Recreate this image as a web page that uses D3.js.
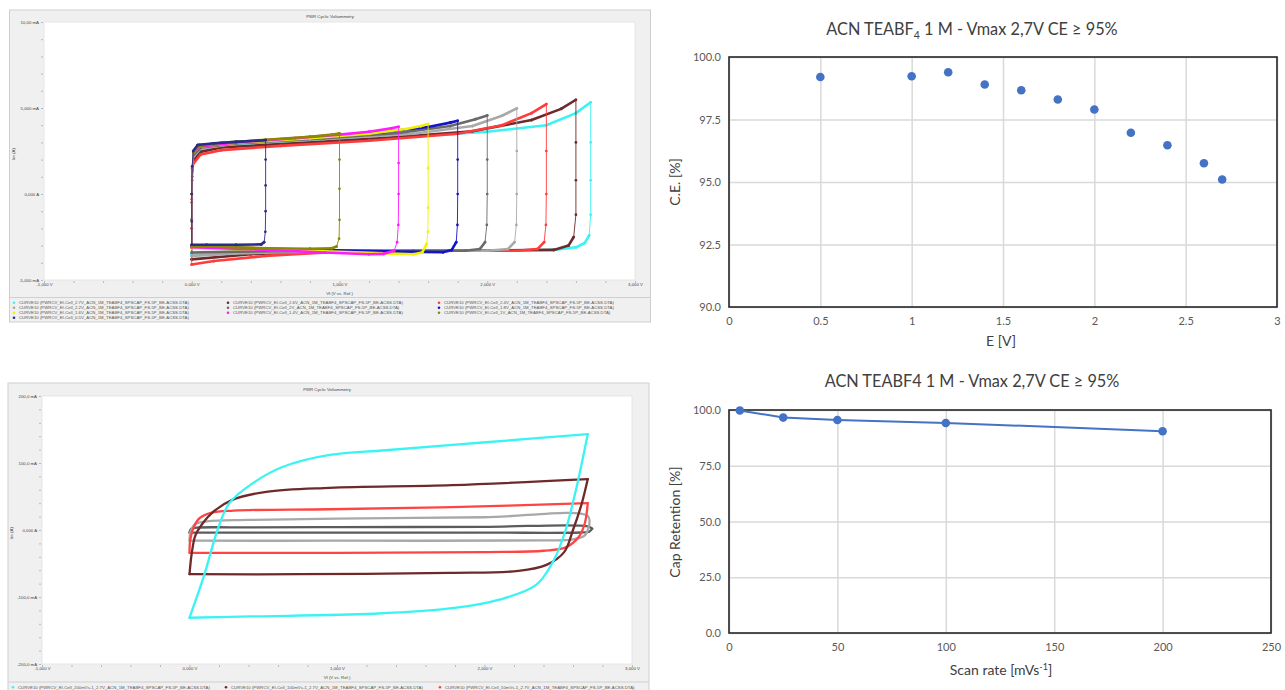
<!DOCTYPE html>
<html><head><meta charset="utf-8">
<script src="https://cdn.jsdelivr.net/npm/d3@7"></script>
<style>body{margin:0;background:#fff}svg{display:block}</style>
</head><body>
<svg id="c" width="1285" height="690"></svg>
<script>
// ---------- DATA ----------
// Top-right: coulombic efficiency vs. voltage window
const ceE   = [0.5, 1, 1.2, 1.4, 1.6, 1.8, 2, 2.2, 2.4, 2.6, 2.7];
const ceVal = [99.2, 99.23, 99.39, 98.9, 98.67, 98.3, 97.9, 96.97, 96.47, 95.75, 95.1];
const ceXTicks = [0, 0.5, 1, 1.5, 2, 2.5, 3];
const ceYTicks = [90, 92.5, 95, 97.5, 100];

// Bottom-right: capacitance retention vs scan rate
const scanRate = [5, 25, 50, 100, 200];
const capRet   = [99.8, 96.6, 95.5, 94.2, 90.5];
const srXTicks = [0, 50, 100, 150, 200, 250];
const srYTicks = [0, 25, 50, 75, 100];

// Top-left: CV loops [V, mA] at different Vmax
const cv27 = [[0,-3.5],[0,-1.5],[0,0],[0.004,1.3],[0.015,2.2],[0.06,2.6],[0.3,2.85],[0.9,3.1],[1.5,3.35],[2.0,3.62],[2.4,4.0],[2.6,4.7],[2.7,5.33],[2.7,3],[2.7,0.8],[2.7,-1.2],[2.69,-2.4],[2.66,-2.85],[2.6,-3.1],[2.45,-3.25],[2.0,-3.3],[1.2,-3.3],[0.5,-3.4],[0,-3.5]];
const cv26 = [[0,-3.8],[0,-2],[0,-0.5],[0.003,1.0],[0.015,2.0],[0.06,2.45],[0.2,2.7],[0.7,2.95],[1.3,3.25],[1.9,3.65],[2.3,4.3],[2.5,4.95],[2.6,5.48],[2.6,3],[2.6,0.8],[2.6,-1.2],[2.585,-2.5],[2.55,-3.0],[2.45,-3.25],[1.8,-3.3],[1.0,-3.35],[0.4,-3.5],[0,-3.8]];
const cv24 = [[0,-4.1],[0,-2],[0,-0.3],[0.003,0.8],[0.015,1.8],[0.06,2.3],[0.2,2.55],[0.6,2.8],[1.2,3.1],[1.8,3.5],[2.1,4.0],[2.3,4.7],[2.4,5.23],[2.4,2.5],[2.4,0],[2.397,-1.8],[2.385,-2.8],[2.34,-3.2],[2.2,-3.3],[1.6,-3.3],[1.0,-3.35],[0.5,-3.6],[0.15,-3.9],[0,-4.1]];
const cv22 = [[0,-3.6],[0,-1.5],[0,0],[0.004,1.3],[0.015,2.2],[0.06,2.65],[0.3,2.92],[0.9,3.2],[1.5,3.5],[1.9,3.95],[2.1,4.55],[2.2,4.98],[2.2,2.5],[2.2,0],[2.197,-1.8],[2.185,-2.8],[2.14,-3.2],[2.0,-3.3],[1.5,-3.3],[0.8,-3.35],[0.3,-3.45],[0,-3.6]];
const cv20 = [[0,-3.4],[0,-1.5],[0,0],[0.003,1.4],[0.015,2.3],[0.06,2.7],[0.3,2.95],[0.9,3.25],[1.4,3.55],[1.75,3.95],[1.92,4.35],[2.0,4.57],[2.0,2],[2.0,0],[1.997,-1.8],[1.985,-2.8],[1.95,-3.2],[1.85,-3.3],[1.5,-3.3],[0.8,-3.3],[0.3,-3.35],[0,-3.4]];
const cv18 = [[0,-3.05],[0,-1.5],[0,0],[0.003,1.6],[0.012,2.5],[0.05,2.85],[0.3,3.02],[0.8,3.27],[1.3,3.6],[1.6,3.9],[1.75,4.15],[1.8,4.26],[1.8,2],[1.8,0],[1.798,-1.8],[1.79,-2.8],[1.76,-3.25],[1.7,-3.38],[1.4,-3.35],[0.8,-3.25],[0.3,-3.12],[0,-3.05]];
const cv16 = [[0,-3.15],[0,-1.5],[0,0],[0.003,1.5],[0.012,2.4],[0.05,2.75],[0.3,2.98],[0.8,3.25],[1.2,3.5],[1.45,3.78],[1.55,3.95],[1.6,4.07],[1.6,1.5],[1.6,-0.8],[1.598,-2.2],[1.59,-2.9],[1.56,-3.4],[1.5,-3.5],[1.3,-3.45],[0.8,-3.3],[0.3,-3.2],[0,-3.15]];
const cv14 = [[0,-3.1],[0,-1.5],[0,0],[0.003,1.5],[0.012,2.4],[0.05,2.75],[0.3,3.0],[0.7,3.25],[1.0,3.45],[1.2,3.62],[1.35,3.82],[1.4,3.91],[1.4,1.8],[1.4,0],[1.398,-1.8],[1.39,-2.8],[1.37,-3.3],[1.3,-3.48],[1.2,-3.5],[0.9,-3.4],[0.5,-3.25],[0,-3.1]];
const cv10 = [[0,-3.0],[0,-1.5],[0,0],[0.003,1.6],[0.012,2.45],[0.05,2.8],[0.2,2.98],[0.5,3.15],[0.8,3.33],[0.95,3.45],[1.0,3.53],[1.0,2.0],[1.0,0.3],[1.0,-1.5],[0.997,-2.6],[0.98,-3.05],[0.95,-3.15],[0.8,-3.18],[0.5,-3.15],[0.2,-3.08],[0,-3.0]];
const cv05 = [[0,-2.95],[0,-1.6],[0,0],[0.003,1.6],[0.01,2.5],[0.04,2.85],[0.15,2.95],[0.3,3.03],[0.45,3.1],[0.5,3.14],[0.5,2.0],[0.5,0.5],[0.5,-1.0],[0.498,-2.2],[0.49,-2.8],[0.47,-2.93],[0.3,-2.95],[0.1,-2.95],[0,-2.95]];
const topNames = ["2.7V","2.6V","2.4V","2.2V","2V","1.8V","1.6V","1.4V","1V","0.5V"];
const topColors = ["#3cf3f3","#6e2a2a","#ff3b3b","#a9a9a9","#6a6a6a","#1414c8","#f2f200","#ff1aff","#8a8a00","#2b2b8a"];
const topCurves = [cv27, cv26, cv24, cv22, cv20, cv18, cv16, cv14, cv10, cv05];
const topYTicks = [10, 5, 0, -5];
const topYLabels = ["10,00 mA","5,000 mA","0,000 A","-5,000 mA"];

// Bottom-left: CV loops [V, mA] at different scan rates
const sr200 = [[0,-131],[0.1,-67],[0.19,0],[0.27,40],[0.43,70],[0.63,94],[0.95,112],[1.33,119],[2.01,131],[2.7,143],[2.62,60],[2.55,0],[2.47,-45],[2.35,-82],[2.1,-104],[1.81,-116],[1.25,-125],[0.41,-129],[0,-131]];
const sr100 = [[0,-66],[0.015,-35],[0.04,-8],[0.09,10],[0.16,27],[0.29,45],[0.52,57],[0.95,63],[1.78,67],[2.7,76],[2.66,40],[2.6,0],[2.54,-33],[2.42,-52],[2.23,-61],[1.76,-64],[0.75,-66],[0,-66]];
const sr50  = [[0,-34],[0.005,-15],[0.03,5],[0.07,18],[0.15,26],[0.3,29],[0.95,31],[1.78,34],[2.7,40],[2.68,10],[2.64,-10],[2.55,-26],[2.4,-31],[2.0,-33],[1.0,-34],[0,-34]];
const sr25  = [[0,-16],[0.008,-2],[0.04,9],[0.12,13],[0.4,15],[1.0,17],[2.0,19],[2.7,21],[2.71,8],[2.68,-8],[2.6,-14],[2.4,-15.5],[1.0,-16],[0,-16]];
const sr5   = [[0,-4],[0.01,1.5],[0.05,3.5],[0.3,4],[1.0,4.3],[2.0,4.7],[2.7,5.5],[2.73,2],[2.71,-2.5],[2.65,-3.7],[2.0,-4],[0,-4]];
const botCurves = [sr5, sr25, sr50, sr100, sr200];
const botColors = ["#5c5c5c","#a8a8a8","#ff4444","#6e2a2a","#3cf3f3"];
const botLegendNames = ["200mVs-1","100mVs-1","50mVs-1"];
const botLegendColors = ["#3cf3f3","#6e2a2a","#ff4444"];
const botYTicks = [200, 100, 0, -100, -200];
const botYLabels = ["200,0 mA","100,0 mA","0,000 A","-100,0 mA","-200,0 mA"];

const cvXTicks = [-1, 0, 1, 2, 3];
const cvXLabels = ["-1,000 V","0,000 V","1,000 V","2,000 V","3,000 V"];

// ---------- DRAW ----------
const svg = d3.select("#c");
const LF = "Liberation Sans, Arial, sans-serif";
const RF = "Lato, 'Open Sans', sans-serif";

function cvPanel(c) {
  const g = svg.append("g");
  g.append("rect").attr("x", c.fx).attr("y", c.fy).attr("width", c.fw).attr("height", c.fh)
    .attr("fill", "#f0f0f0").attr("stroke", "#cfcfcf").attr("stroke-width", 1);
  g.append("rect").attr("x", c.x0).attr("y", c.y0).attr("width", c.x1 - c.x0).attr("height", c.y1 - c.y0)
    .attr("fill", "#fff").attr("stroke", "#e2e2e2").attr("stroke-width", 0.8);
  g.append("text").attr("x", c.titleX).attr("y", c.titleY).attr("text-anchor", "middle")
    .attr("font-family", LF).attr("font-size", 4.3).attr("fill", "#444").text("PWR Cyclic Voltammetry");
  const x = d3.scaleLinear().domain([-1, 3]).range([c.x0, c.x1]);
  const y = d3.scaleLinear().domain(c.yDomain).range([c.y1, c.y0]);
  const styleAxis = s => { s.select(".domain").remove(); s.selectAll("line").attr("stroke", "#a0a0a0").attr("stroke-width", 0.7);
    s.selectAll("text").attr("font-family", LF).attr("font-size", 4.3).attr("fill", "#444"); };
  g.append("g").attr("transform", `translate(${c.x0 - 1},0)`)
    .call(d3.axisLeft(y).tickValues(d3.range(c.yDomain[0], c.yDomain[1] + 1e-9, c.yMinor)).tickSize(2).tickFormat(""))
    .call(styleAxis);
  g.append("g").attr("transform", `translate(${c.x0 - 1},0)`)
    .call(d3.axisLeft(y).tickValues(c.yTicks).tickSize(0).tickPadding(4).tickFormat((d, i) => c.yLabels[i]))
    .call(styleAxis);
  g.append("g").attr("transform", `translate(0,${c.y1 + 1})`)
    .call(d3.axisBottom(x).tickValues(d3.range(-1, 3.0001, 0.2)).tickSize(2).tickFormat(""))
    .call(styleAxis);
  g.append("g").attr("transform", `translate(0,${c.y1})`)
    .call(d3.axisBottom(x).tickValues(cvXTicks).tickSize(0).tickPadding(2.5).tickFormat((d, i) => cvXLabels[i]))
    .call(styleAxis);
  g.append("text").attr("x", (c.x0 + c.x1) / 2).attr("y", c.xTitleY).attr("text-anchor", "middle")
    .attr("font-family", LF).attr("font-size", 4.3).attr("fill", "#444").text("Vf (V vs. Ref.)");
  g.append("text").attr("transform", `translate(${c.yTitleX},${(c.y0 + c.y1) / 2 + 3}) rotate(-90)`).attr("text-anchor", "middle")
    .attr("font-family", LF).attr("font-size", 4.3).attr("fill", "#444").text("Im (A)");
  // legend
  g.append("line").attr("x1", c.fx).attr("x2", c.fx + c.fw).attr("y1", c.sepY).attr("y2", c.sepY).attr("stroke", "#cfcfcf");
  c.legend.forEach((t, i) => {
    const col = i % 3, row = Math.floor(i / 3);
    const lx = c.legendX[col], ly = c.legendY + row * c.legendRow;
    g.append("circle").attr("cx", lx).attr("cy", ly - 1.3).attr("r", 1.3).attr("fill", c.legendColors[i]);
    g.append("text").attr("x", lx + 5).attr("y", ly).attr("font-family", LF).attr("font-size", 4.3)
      .attr("fill", "#555").text(t);
  });
  // curves
  const clipId = "clip" + c.fy;
  svg.append("clipPath").attr("id", clipId).append("rect").attr("x", c.x0).attr("y", c.y0)
    .attr("width", c.x1 - c.x0).attr("height", c.y1 - c.y0);
  const cg = g.append("g").attr("clip-path", `url(#${clipId})`);
  c.curves.forEach((d, i) => {
    if (c.dots) {
      // segment-wise: steep (sparse data) segments thin, slow segments thick like dense markers
      const segs = d3.pairs(d);
      cg.selectAll(null).data(segs).enter().append("line")
        .attr("x1", s => x(s[0][0])).attr("y1", s => y(s[0][1]))
        .attr("x2", s => x(s[1][0])).attr("y2", s => y(s[1][1]))
        .attr("stroke", c.colors[i]).attr("stroke-linecap", "round")
        .attr("stroke-width", s => {
          const dx = Math.abs(x(s[1][0]) - x(s[0][0])), dy = Math.abs(y(s[1][1]) - y(s[0][1]));
          return dx < 0.35 * dy ? 0.9 : c.sw;
        });
      cg.selectAll(null).data(d).enter().append("circle")
        .attr("cx", p => x(p[0])).attr("cy", p => y(p[1])).attr("r", 1.35).attr("fill", c.colors[i]);
    } else {
      // forward and reverse sweeps drawn separately so the vertex at the switching potential stays sharp
      const k = d3.maxIndex(d, p => p[0]);
      const line = d3.line().x(p => x(p[0])).y(p => y(p[1])).curve(d3.curveCatmullRom.alpha(0.5));
      [d.slice(0, k + 1), d.slice(k)].forEach(part => {
        cg.append("path").attr("d", line(part)).attr("fill", "none").attr("stroke", c.colors[i])
          .attr("stroke-width", c.sw).attr("stroke-linejoin", "round").attr("stroke-linecap", "round");
      });
    }
  });
}

cvPanel({
  fx: 9.5, fy: 10, fw: 641, fh: 312, x0: 44, x1: 635, y0: 22, y1: 280,
  yDomain: [-5, 10], yMinor: 1, yTicks: topYTicks, yLabels: topYLabels,
  titleX: 330, titleY: 17.5, xTitleY: 294.5, yTitleX: 15,
  sepY: 297.5, legendX: [14, 228, 439], legendY: 304, legendRow: 5,
  legend: topNames.map(n => `CURVE10 (PWRCV_EI-Cell_${n}_ACN_1M_TEABF4_SPSCAP_FS-5P_BE-ACSS.DTA)`),
  legendColors: topColors, curves: topCurves, colors: topColors, sw: 2.6, dots: true
});

cvPanel({
  fx: 8, fy: 383, fw: 641, fh: 320, x0: 42, x1: 632, y0: 396, y1: 664,
  yDomain: [-200, 200], yMinor: 20, yTicks: botYTicks, yLabels: botYLabels,
  titleX: 327, titleY: 390.5, xTitleY: 678.5, yTitleX: 13,
  sepY: 682, legendX: [13, 226, 440], legendY: 688.5, legendRow: 5,
  legend: botLegendNames.map(n => `CURVE10 (PWRCV_EI-Cell_${n}_2.7V_ACN_1M_TEABF4_SPSCAP_FS-5P_BE-ACSS.DTA)`),
  legendColors: botLegendColors, curves: botCurves, colors: botColors, sw: 2.3, dots: false
});

function xyChart(c) {
  const g = svg.append("g");
  const x = d3.scaleLinear().domain(c.xDomain).range([c.x0, c.x1]);
  const y = d3.scaleLinear().domain(c.yDomain).range([c.y1, c.y0]);
  const grid = s => { s.select(".domain").remove(); s.selectAll("text").remove();
    s.selectAll("line").attr("stroke", "#d9d9d9").attr("stroke-width", 1.5); };
  g.append("g").attr("transform", `translate(0,${c.y1})`)
    .call(d3.axisBottom(x).tickValues(c.xTicks).tickSize(-(c.y1 - c.y0))).call(grid);
  g.append("g").attr("transform", `translate(${c.x0},0)`)
    .call(d3.axisLeft(y).tickValues(c.yTicks).tickSize(-(c.x1 - c.x0))).call(grid);
  g.append("rect").attr("x", c.x0).attr("y", c.y0).attr("width", c.x1 - c.x0).attr("height", c.y1 - c.y0)
    .attr("fill", "none").attr("stroke", "#262626").attr("stroke-width", 1.6);
  const lab = s => { s.select(".domain").remove(); s.selectAll("line").remove();
    s.selectAll("text").attr("font-family", RF).attr("font-size", 11).attr("fill", "#595959"); };
  g.append("g").attr("transform", `translate(${c.x0},0)`)
    .call(d3.axisLeft(y).tickValues(c.yTicks).tickSize(0).tickPadding(8).tickFormat(d3.format(".1f"))).call(lab);
  g.append("g").attr("transform", `translate(0,${c.y1})`)
    .call(d3.axisBottom(x).tickValues(c.xTicks).tickSize(0).tickPadding(10).tickFormat(d => String(d))).call(lab);
  // title
  const t = g.append("text").attr("x", 972).attr("y", c.titleY).attr("text-anchor", "middle")
    .attr("font-family", RF).attr("font-size", 16.3).attr("fill", "#404040");
  c.title(t);
  const xt = g.append("text").attr("x", 1001).attr("y", c.xTitleY).attr("text-anchor", "middle")
    .attr("font-family", RF).attr("font-size", 14).attr("fill", "#404040");
  c.xTitle(xt);
  g.append("text").attr("transform", `translate(${c.yTitleX},${c.yTitleY}) rotate(-90)`).attr("text-anchor", "middle")
    .attr("font-family", RF).attr("font-size", 14).attr("fill", "#404040").text(c.yTitle);
  if (c.line) g.append("path").attr("d", d3.line().x(d => x(d[0])).y(d => y(d[1]))(c.data))
    .attr("fill", "none").attr("stroke", "#4472c4").attr("stroke-width", 2);
  g.selectAll(null).data(c.data).enter().append("circle")
    .attr("cx", d => x(d[0])).attr("cy", d => y(d[1])).attr("r", 4.3).attr("fill", "#4472c4");
}

xyChart({
  x0: 729, x1: 1277, y0: 57, y1: 307, xDomain: [0, 3], yDomain: [90, 100],
  xTicks: ceXTicks, yTicks: ceYTicks, titleY: 35, xTitleY: 346, yTitleX: 680, yTitleY: 182,
  title: t => { t.append("tspan").text("ACN TEABF"); t.append("tspan").attr("font-size", 10.5).attr("dy", 4).text("4");
    t.append("tspan").attr("dy", -4).text(" 1 M - Vmax 2,7V CE ≥ 95%"); },
  xTitle: t => t.text("E [V]"), yTitle: "C.E.  [%]",
  data: ceE.map((e, i) => [e, ceVal[i]]), line: false
});

xyChart({
  x0: 729, x1: 1271, y0: 410, y1: 633, xDomain: [0, 250], yDomain: [0, 100],
  xTicks: srXTicks, yTicks: srYTicks, titleY: 387, xTitleY: 675, yTitleX: 680, yTitleY: 522,
  title: t => t.text("ACN TEABF4 1 M - Vmax 2,7V CE ≥ 95%"),
  xTitle: t => { t.append("tspan").text("Scan rate [mVs"); t.append("tspan").attr("font-size", 9).attr("dy", -5).text("-1");
    t.append("tspan").attr("dy", 5).text("]"); },
  yTitle: "Cap Retention [%]",
  data: scanRate.map((s, i) => [s, capRet[i]]), line: true
});
</script></body></html>
